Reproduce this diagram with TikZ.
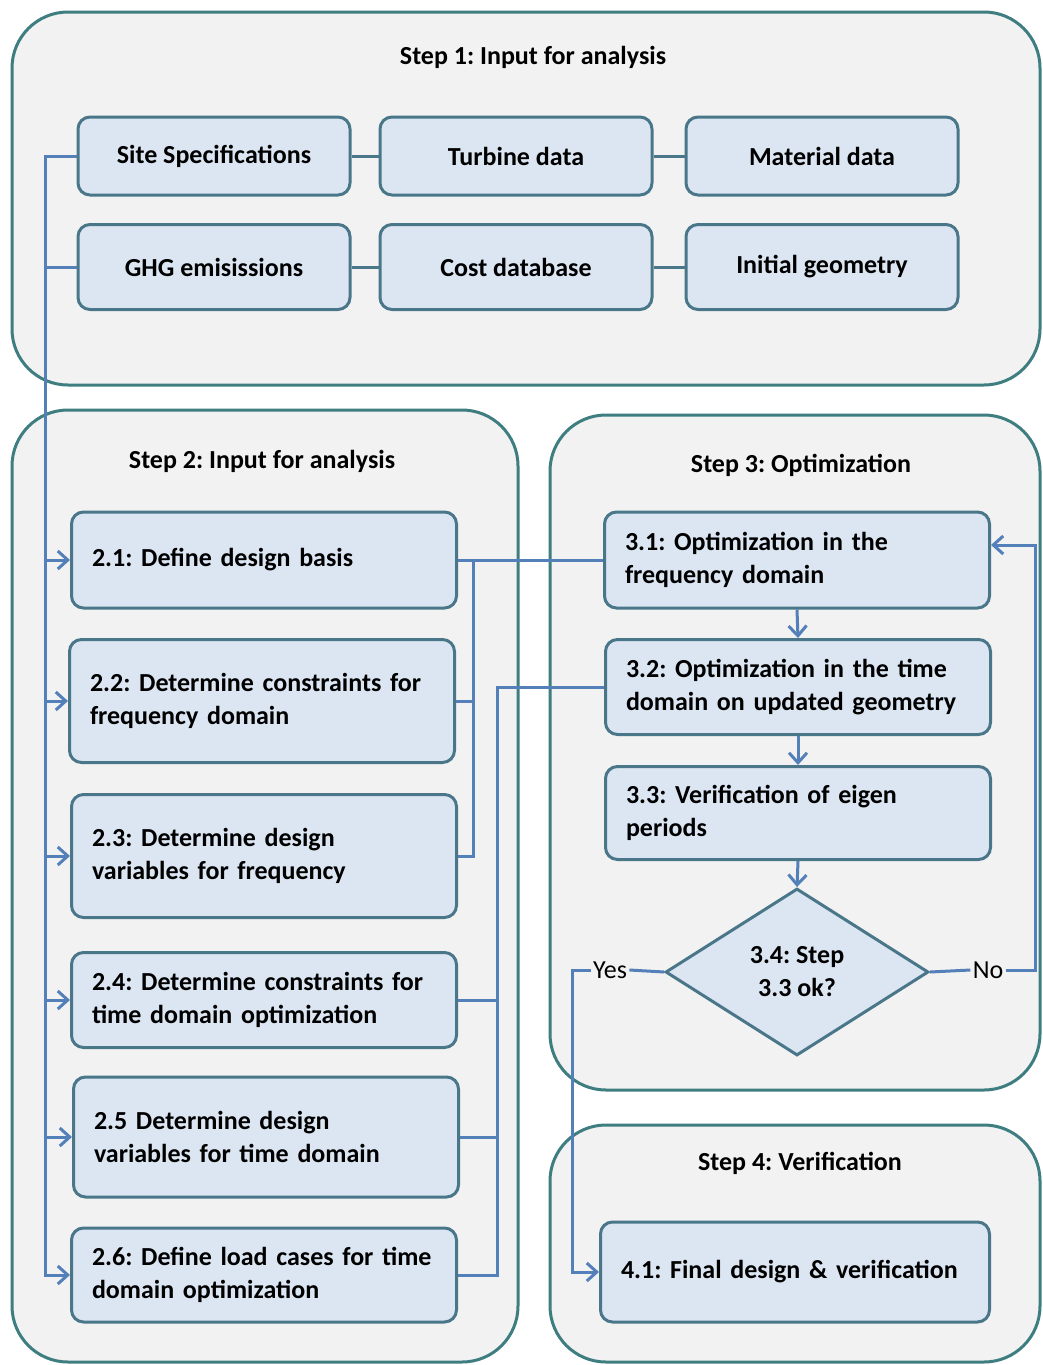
\documentclass[tikz,border=0pt]{standalone}
\usepackage{fontspec}
\setmainfont{Carlito}
\usetikzlibrary{shapes, positioning, arrows, arrows.meta, calc}
\definecolor{framecol}{RGB}{62,125,128}
\definecolor{framefill}{RGB}{242,242,242}
\definecolor{boxline}{RGB}{74,118,138}
\definecolor{boxfill}{RGB}{220,230,242}
\definecolor{linkcol}{RGB}{84,128,186}
\tikzset{
	>={Straight Barb[length=5pt,width=9pt]},
	every edge/.style={
		draw, ->, linkcol, line width=1.5pt
	}
}
\frenchspacing

\begin{document}
\begin{tikzpicture}[x=0.5pt, y=-0.5pt,
	frame/.style={draw=framecol, line width=1.5pt, fill=framefill, rounded corners=28pt},
	title/.style={font=\bfseries\fontsize{13}{16}\selectfont},
	box/.style={draw=boxline, line width=1.5pt, fill=boxfill, rounded corners=6pt, font=\bfseries\fontsize{13}{16.5}\selectfont},
	inbox/.style={box, minimum width=136pt, minimum height=39pt},
	stepbox/.style={box, align=left, text width=172pt, inner xsep=10.25pt},
	decision/.style={diamond, draw=boxline, fill=boxfill, line width=1.5pt, minimum width=131.5pt, minimum height=83.5pt, inner sep=0pt, align=center, font=\bfseries\fontsize{13}{16.5}\selectfont},
	answer/.style={inner sep=1pt, font=\fontsize{13}{16}\selectfont},
	link/.style={draw=linkcol, line width=1.5pt},
	tie/.style={draw=boxline, line width=1.5pt}]
	\useasboundingbox (0,0) rectangle (1043,1365);
	\fill[white] (0,0) rectangle (1043,1365);
	% step frames
	\draw[frame] (12,12) rectangle (1040,385);
	\draw[frame] (12,410) rectangle (518,1362);
	\draw[frame] (550,415) rectangle (1040,1090);
	\draw[frame] (550,1125) rectangle (1040,1362);
	\node[title] (s1title) at (533,57) {Step 1: Input for analysis};
	\node[title] (s2title) at (262,461) {Step 2: Input for analysis};
	\node[title] (s3title) at (801,465) {Step 3: Optimization};
	\node[title] (s4title) at (800,1163) {Step 4: Verification};
	% step 1
	\node[inbox] (site) at (214,156) {Site Specifications};
	\node[inbox] (turbine) at (516,156) {Turbine data};
	\node[inbox] (material) at (822,156) {Material data};
	\node[inbox, minimum height=42.5pt] (ghg) at (214,267) {GHG emisissions};
	\node[inbox, minimum height=42.5pt] (cost) at (516,267) {Cost database};
	\node[inbox, minimum height=42.5pt] (initial) at (822,267) {Initial geometry};
	\draw[tie] (site) -- (turbine);
	\draw[tie] (turbine) -- (material);
	\draw[tie] (ghg) -- (cost);
	\draw[tie] (cost) -- (initial);
	% step 2
	\node[stepbox, minimum height=48pt] (d21) at (264,560) {2.1: Define design basis};
	\node[stepbox, minimum height=61.5pt] (d22) at (262,701) {2.2: Determine constraints for\\frequency domain};
	\node[stepbox, minimum height=61.5pt] (d23) at (264,856) {2.3: Determine design\\variables for frequency};
	\node[stepbox, minimum height=47.5pt] (d24) at (264,1000) {2.4: Determine constraints for\\time domain optimization};
	\node[stepbox, minimum height=60pt] (d25) at (266,1137) {2.5 Determine design\\variables for time domain};
	\node[stepbox, minimum height=47pt] (d26) at (264,1275) {2.6: Define load cases for time\\domain optimization};
	% step 3
	\node[stepbox, minimum height=48pt] (o31) at (797,560) {3.1: Optimization in the\\frequency domain};
	\node[stepbox, minimum height=47.5pt] (o32) at (798,687) {3.2: Optimization in the time\\domain on updated geometry};
	\node[stepbox, minimum height=46.5pt] (o33) at (798,813) {3.3: Verification of eigen\\periods};
	\node[decision] (check) at (797,972) {3.4: Step\\3.3 ok?};
	\node[answer] (yes) at (610,970) {Yes};
	\node[answer] (no) at (988,970) {No};
	% step 4
	\node[stepbox, minimum height=50pt, text width=174pt] (f41) at (795,1272) {4.1: Final design \& verification};
	% inputs into step 2
	\coordinate (lbus) at (45,156);
	\draw[link, ->] (site.west) -- (lbus) |- (d26.west);
	\draw[link] (ghg.west) -- (lbus |- ghg.west);
	\foreach \n in {d21,d22,d23,d24,d25}
		\draw (lbus |- \n.west) edge (\n.west);
	% step 2 into step 3
	\coordinate (jfreq) at (473,560);
	\coordinate (jtime) at (497,687);
	\draw[link] (d21.east) -- (o31.west);
	\draw[link] (d22.east) -| (jfreq);
	\draw[link] (d23.east) -| (jfreq);
	\draw[link] (o32.west) -- (jtime) |- (d26.east);
	\draw[link] (d24.east) -| (jtime);
	\draw[link] (d25.east) -| (jtime);
	% optimization loop
	\draw (o31.south) edge (o32.north);
	\draw (o32.south) edge (o33.north);
	\draw (o33.south) edge (check.north);
	\coordinate (noturn) at (1035,970);
	\draw[link] (check.east) -- (no.west);
	\draw[link, ->] (no.east) -- (noturn) |- ($(o31.east)+(0,-15)$);
	\draw[link] (check.west) -- (yes.east);
	\draw[link, ->] (yes.west) -- ++(-18,0) |- (f41.west);
\end{tikzpicture}
\end{document}
